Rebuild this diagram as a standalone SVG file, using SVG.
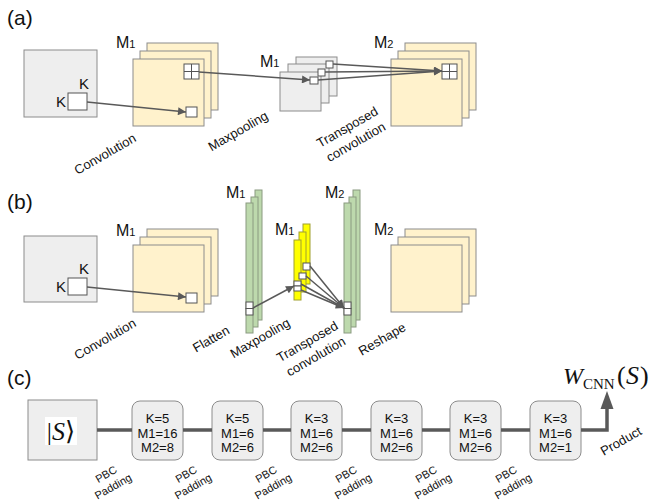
<svg xmlns="http://www.w3.org/2000/svg" width="656" height="504" viewBox="0 0 656 504">
<style>
text{font-family:"Liberation Sans",Arial,sans-serif;fill:#111}
.pl{font-size:21px}
.k{font-size:15px}
.m{font-size:16px}
.sub{font-size:11px}
.lab{font-size:13px;text-anchor:middle}
.pbc{font-size:11px;text-anchor:middle}
.bt{font-size:13px;text-anchor:middle}
.inp{fill:#eeeeee;stroke:#8c8c8c;stroke-width:1}
.fm{fill:#fff2cc;stroke:#8c8c8c;stroke-width:1}
.sq{fill:#ffffff;stroke:#555;stroke-width:1}
.gr{fill:#bdd9ad;stroke:#8a9a80;stroke-width:1}
.ye{fill:#ffff00;stroke:#a0a030;stroke-width:1}
.cn{stroke:#595959;stroke-width:1.5;fill:none}
.th{stroke:#595959;stroke-width:3.5;fill:none}
.box{fill:#eeeeee;stroke:#8c8c8c;stroke-width:1}
.mt{font-family:"Liberation Serif","DejaVu Serif",serif}
</style>
<defs>
<marker id="ah" viewBox="0 0 10 10" refX="10" refY="5" markerWidth="10" markerHeight="8" markerUnits="userSpaceOnUse" orient="auto"><path d="M0,0 L10,5 L0,10 Z" fill="#595959"/></marker>
</defs>

<!-- panel labels -->
<text class="pl" x="7" y="25">(a)</text>
<text class="pl" x="7" y="209">(b)</text>
<text class="pl" x="7" y="385">(c)</text>

<!-- ===== (a) ===== -->
<g id="a-input">
<rect class="inp" x="24" y="50" width="73" height="67"/>
<rect class="sq" x="68" y="93" width="19" height="17"/>
<text class="k" x="79" y="89">K</text>
<text class="k" x="56" y="107">K</text>
</g>
<g id="a-m1">
<rect class="fm" x="147" y="43" width="71" height="67"/>
<rect class="fm" x="140" y="51" width="71" height="67"/>
<rect class="fm" x="133" y="59" width="71" height="67"/>
<rect class="sq" x="184" y="64" width="15" height="15"/>
<path d="M191.5,64 V79 M184,71.5 H199" stroke="#555" stroke-width="1"/>
<rect class="sq" x="186" y="107" width="11" height="10"/>
<text class="m" x="116" y="48">M<tspan class="sub">1</tspan></text>
</g>
<g id="a-pool">
<rect class="inp" x="296" y="57" width="41" height="39"/>
<rect class="inp" x="288" y="64" width="41" height="39"/>
<rect class="inp" x="280" y="72" width="41" height="39"/>
<rect class="sq" x="326" y="61" width="7" height="7"/>
<rect class="sq" x="318" y="69" width="7" height="7"/>
<rect class="sq" x="310" y="77" width="8" height="7"/>
<text class="m" x="260" y="67">M<tspan class="sub">1</tspan></text>
</g>
<g id="a-m2">
<rect class="fm" x="405" y="43" width="71" height="67"/>
<rect class="fm" x="398" y="51" width="71" height="67"/>
<rect class="fm" x="391" y="59" width="71" height="67"/>
<rect class="sq" x="442" y="64" width="15" height="15"/>
<path d="M449.5,64 V79 M442,71.5 H457" stroke="#555" stroke-width="1"/>
<text class="m" x="374" y="48">M<tspan class="sub">2</tspan></text>
</g>
<g id="a-labels">
<text class="lab" x="105" y="158.5" transform="rotate(-30 105 154)">Convolution</text>
<text class="lab" x="238" y="135.5" transform="rotate(-30 238 131)">Maxpooling</text>
<text class="lab" transform="rotate(-30 351.5 134.5)"><tspan x="351.5" y="130.5">Transposed</tspan><tspan x="351.5" y="147.5">convolution</tspan></text>
</g>

<!-- ===== (b) ===== -->
<g id="b-input">
<rect class="inp" x="24" y="236" width="73" height="66"/>
<rect class="sq" x="68" y="278" width="19" height="17"/>
<text class="k" x="79" y="274">K</text>
<text class="k" x="56" y="292">K</text>
</g>
<g id="b-m1">
<rect class="fm" x="147" y="229" width="71" height="67"/>
<rect class="fm" x="140" y="237" width="71" height="67"/>
<rect class="fm" x="133" y="245" width="71" height="67"/>
<rect class="sq" x="186" y="293" width="11" height="10"/>
<text class="m" x="116" y="236">M<tspan class="sub">1</tspan></text>
</g>
<g id="b-flat">
<rect class="gr" x="255" y="190" width="7" height="130"/>
<rect class="gr" x="251" y="197" width="7" height="130"/>
<rect class="gr" x="246" y="203" width="7" height="130"/>
<rect class="sq" x="246" y="302" width="7" height="6.5"/>
<rect class="sq" x="246" y="308.5" width="7" height="6.5"/>
<text class="m" x="226" y="198">M<tspan class="sub">1</tspan></text>
</g>
<g id="b-pool">
<rect class="ye" x="303" y="224" width="7" height="60"/>
<rect class="ye" x="299" y="232" width="7" height="60"/>
<rect class="ye" x="294" y="240" width="7" height="60"/>
<rect class="sq" x="303" y="263" width="7" height="7"/>
<rect class="sq" x="299" y="273" width="7" height="6"/>
<rect class="sq" x="294" y="281" width="7" height="5"/>
<rect class="sq" x="294" y="286" width="7" height="5"/>
<text class="m" x="275" y="235">M<tspan class="sub">1</tspan></text>
</g>
<g id="b-tconv">
<rect class="gr" x="353" y="190" width="7" height="130"/>
<rect class="gr" x="349" y="197" width="7" height="130"/>
<rect class="gr" x="344" y="203" width="7" height="130"/>
<rect class="sq" x="344" y="302" width="7" height="6.5"/>
<rect class="sq" x="344" y="308.5" width="7" height="6.5"/>
<text class="m" x="325" y="198">M<tspan class="sub">2</tspan></text>
</g>
<g id="b-m2">
<rect class="fm" x="405" y="229" width="71" height="67"/>
<rect class="fm" x="398" y="237" width="71" height="67"/>
<rect class="fm" x="391" y="245" width="71" height="67"/>
<text class="m" x="374" y="235">M<tspan class="sub">2</tspan></text>
</g>
<g id="b-labels">
<text class="lab" x="105" y="343.5" transform="rotate(-30 105 339)">Convolution</text>
<text class="lab" x="211" y="343.5" transform="rotate(-30 211 339)">Flatten</text>
<text class="lab" x="260" y="342.5" transform="rotate(-30 260 338)">Maxpooling</text>
<text class="lab" transform="rotate(-30 311.5 349)"><tspan x="311.5" y="345">Transposed</tspan><tspan x="311.5" y="362">convolution</tspan></text>
<text class="lab" x="382" y="343.5" transform="rotate(-30 382 339)">Reshape</text>
</g>

<!-- ===== (c) ===== -->
<g id="c-state">
<rect class="inp" x="28" y="400" width="69" height="60"/>
<rect x="45" y="417" width="32" height="28" fill="#ffffff"/>
<text class="mt" x="61" y="440" font-size="26" text-anchor="middle">|<tspan font-style="italic">S</tspan>⟩</text>
</g>
<g id="c-l1"><rect class="box" x="132" y="401" width="51" height="59" rx="8"/><text class="bt"><tspan x="157.5" y="423">K=5</tspan><tspan x="157.5" y="437.5">M1=16</tspan><tspan x="157.5" y="452">M2=8</tspan></text></g>
<g id="c-l2"><rect class="box" x="212" y="401" width="51" height="59" rx="8"/><text class="bt"><tspan x="237.5" y="423">K=5</tspan><tspan x="237.5" y="437.5">M1=6</tspan><tspan x="237.5" y="452">M2=6</tspan></text></g>
<g id="c-l3"><rect class="box" x="291" y="401" width="51" height="59" rx="8"/><text class="bt"><tspan x="316.5" y="423">K=3</tspan><tspan x="316.5" y="437.5">M1=6</tspan><tspan x="316.5" y="452">M2=6</tspan></text></g>
<g id="c-l4"><rect class="box" x="371" y="401" width="51" height="59" rx="8"/><text class="bt"><tspan x="396.5" y="423">K=3</tspan><tspan x="396.5" y="437.5">M1=6</tspan><tspan x="396.5" y="452">M2=6</tspan></text></g>
<g id="c-l5"><rect class="box" x="450" y="401" width="51" height="59" rx="8"/><text class="bt"><tspan x="475.5" y="423">K=3</tspan><tspan x="475.5" y="437.5">M1=6</tspan><tspan x="475.5" y="452">M2=6</tspan></text></g>
<g id="c-l6"><rect class="box" x="530" y="401" width="51" height="59" rx="8"/><text class="bt"><tspan x="555.5" y="423">K=3</tspan><tspan x="555.5" y="437.5">M1=6</tspan><tspan x="555.5" y="452">M2=1</tspan></text></g>
<g id="c-out">
<text class="mt" font-size="24"><tspan x="563" y="384" font-style="italic">W</tspan><tspan x="583" y="389" font-size="15">CNN</tspan><tspan x="617" y="384" font-size="26">(</tspan><tspan x="626" y="384" font-size="26" font-style="italic">S</tspan><tspan x="640" y="384" font-size="26">)</tspan></text>
</g>
<g id="c-labels">
<text class="pbc" transform="rotate(-30 110 481)"><tspan x="110" y="477">PBC</tspan><tspan x="110" y="491">Padding</tspan></text>
<text class="pbc" transform="rotate(-30 190 481)"><tspan x="190" y="477">PBC</tspan><tspan x="190" y="491">Padding</tspan></text>
<text class="pbc" transform="rotate(-30 270 481)"><tspan x="270" y="477">PBC</tspan><tspan x="270" y="491">Padding</tspan></text>
<text class="pbc" transform="rotate(-30 350 481)"><tspan x="350" y="477">PBC</tspan><tspan x="350" y="491">Padding</tspan></text>
<text class="pbc" transform="rotate(-30 430 481)"><tspan x="430" y="477">PBC</tspan><tspan x="430" y="491">Padding</tspan></text>
<text class="pbc" transform="rotate(-30 510 481)"><tspan x="510" y="477">PBC</tspan><tspan x="510" y="491">Padding</tspan></text>
<text class="lab" x="621" y="445.5" transform="rotate(-30 621 441)">Product</text>
</g>

<!-- connectors -->
<g id="connectors">
<path class="cn" d="M87,102 L186,112" marker-end="url(#ah)"/>
<path class="cn" d="M199,72 L310,80" marker-end="url(#ah)"/>
<path class="cn" d="M333,64 L442,71" marker-end="url(#ah)"/>
<path class="cn" d="M325,72 L442,71" marker-end="url(#ah)"/>
<path class="cn" d="M318,80 L442,71" marker-end="url(#ah)"/>
<path class="cn" d="M87,287 L186,297" marker-end="url(#ah)"/>
<path class="cn" d="M253,308 L294,286" marker-end="url(#ah)"/>
<path class="cn" d="M310,266 L344,308" marker-end="url(#ah)"/>
<path class="cn" d="M306,276 L344,308" marker-end="url(#ah)"/>
<path class="cn" d="M301,284 L344,308" marker-end="url(#ah)"/>
<path class="cn" d="M301,290 L344,308" marker-end="url(#ah)"/>
<path class="th" d="M97,430 H132 M183,430 H212 M263,430 H291 M342,430 H371 M422,430 H450 M501,430 H530"/>
<path class="th" d="M581,430 H607 V407"/>
<path d="M600.5,409 L607,391 L613.5,409 Z" fill="#595959"/>
</g>
</svg>
